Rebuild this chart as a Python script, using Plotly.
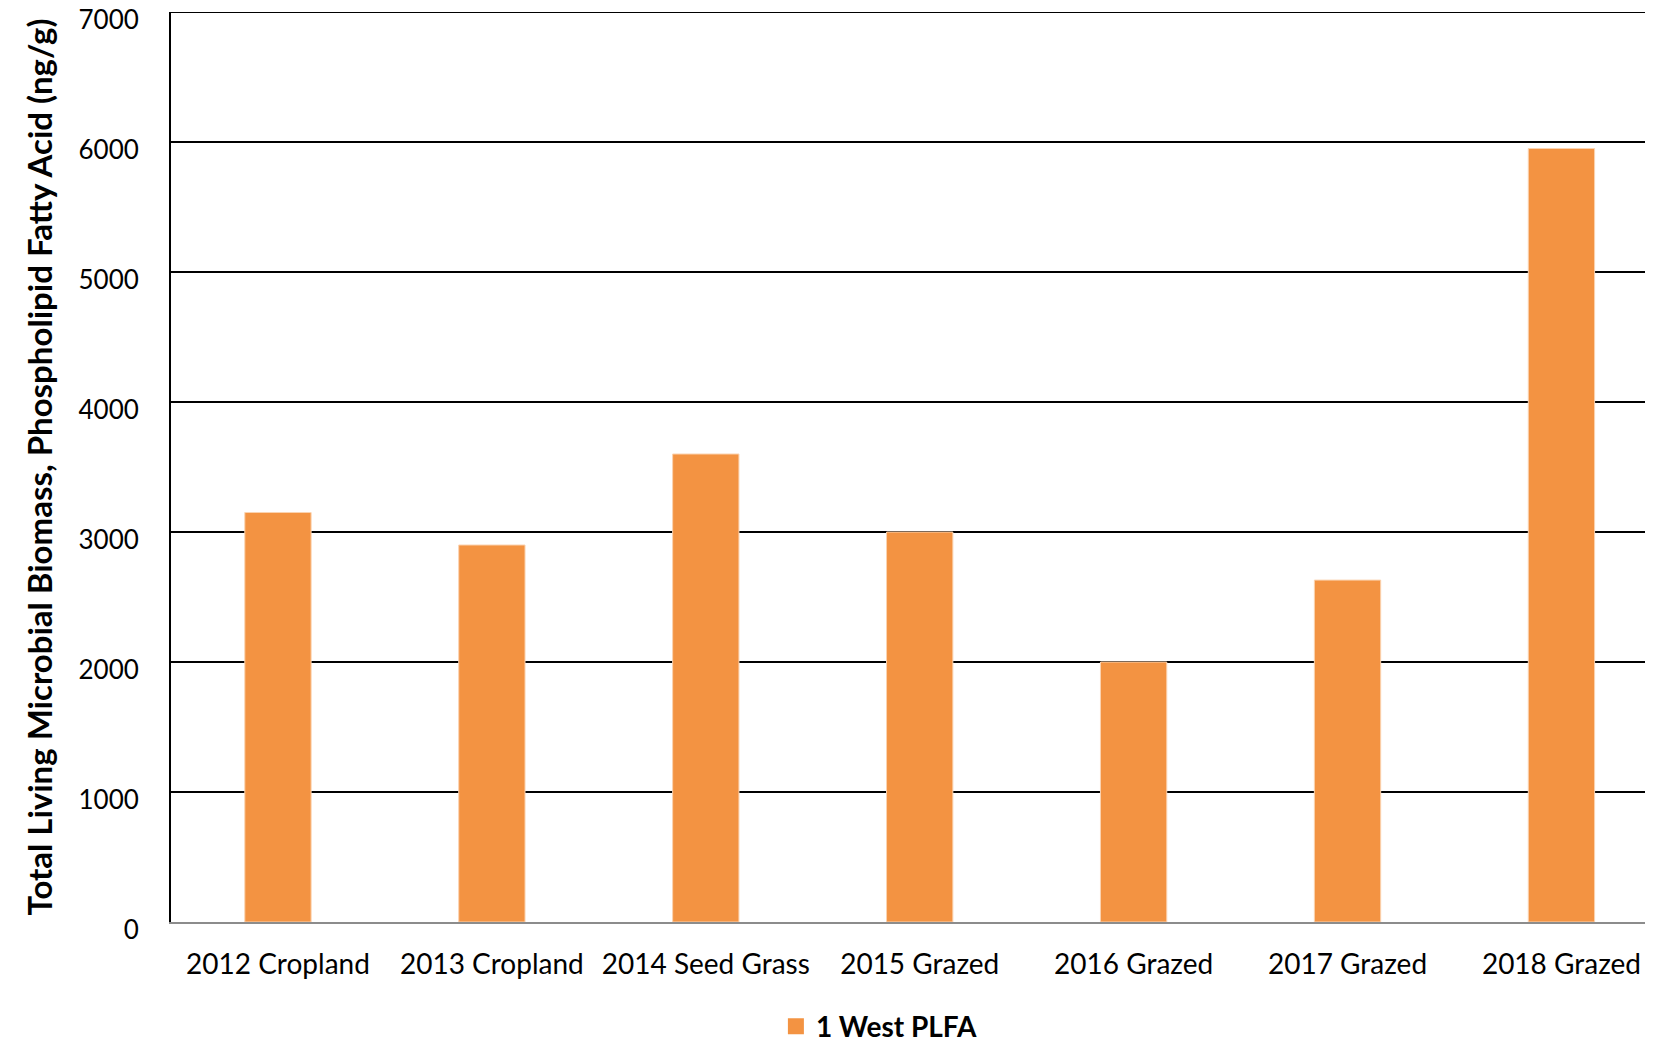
import plotly.graph_objects as go

categories = ["2012 Cropland", "2013 Cropland", "2014 Seed Grass", "2015 Grazed",
              "2016 Grazed", "2017 Grazed", "2018 Grazed"]
plfa_values = [3150, 2900, 3600, 3000, 2000, 2630, 5950]
series_name = "1 West PLFA"
y_ticks = [0, 1000, 2000, 3000, 4000, 5000, 6000, 7000]

FONT = "Lato"
ORANGE = "#F39342"

fig = go.Figure()
fig.add_trace(go.Bar(
    x=categories, y=plfa_values, name=series_name, showlegend=False,
    marker=dict(color=ORANGE, line=dict(color="#FBD3B0", width=1)),
    width=0.31,
))
# legend entry with a larger square swatch
fig.add_trace(go.Scatter(
    x=[None], y=[None], mode="markers", name=series_name,
    marker=dict(symbol="square", size=18, color=ORANGE),
))

fig.update_layout(
    width=1645, height=1050,
    margin=dict(l=163, r=0, t=4, b=136),
    paper_bgcolor="white", plot_bgcolor="white",
    font=dict(family=FONT, color="black", size=28),
    showlegend=True,
    legend=dict(orientation="h", x=0.478, xanchor="center", y=-0.115, yanchor="middle",
                font=dict(family=FONT, size=28, color="black", weight="bold"),
                itemwidth=30),
)
fig.update_xaxes(
    type="category", range=[-0.5, 6.428], automargin=False,
    showline=True, linecolor="#8C8C8C", linewidth=2,
    showgrid=False, ticks="", ticklabelstandoff=16,
    tickfont=dict(family=FONT, size=28, color="black"),
)
fig.update_yaxes(
    range=[0, 7000], tickvals=y_ticks, ticktext=[str(v) for v in y_ticks],
    automargin=False,
    showgrid=True, gridcolor="black", gridwidth=2,
    zeroline=False, showline=True, linecolor="black", linewidth=2,
    ticks="", ticklabelstandoff=25, ticklabeloverflow="allow", ticklabelshift=8,
    tickfont=dict(family=FONT, size=26, color="black"),
    title=dict(text="Total Living Microbial Biomass, Phospholipid Fatty Acid (ng/g)",
               font=dict(family=FONT, size=33, color="black", weight="bold"),
               standoff=16),
)
fig.add_shape(type="line", xref="paper", yref="y", x0=0, x1=1, y0=7000, y1=7000,
              line=dict(color="black", width=2), layer="below")

fig.write_html("out.html")
